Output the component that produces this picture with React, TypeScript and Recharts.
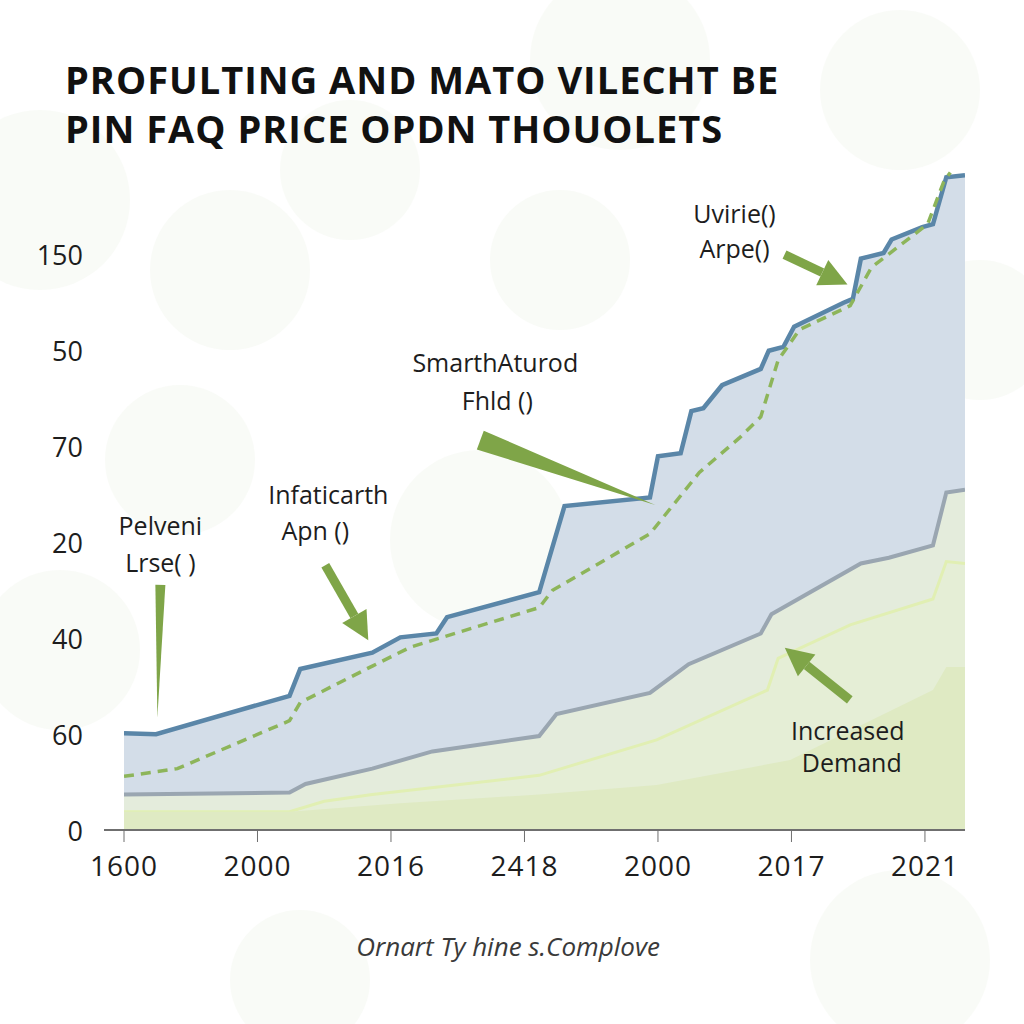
import React from 'react';
import { ComposedChart, Area, Line, XAxis, YAxis, ReferenceDot } from 'recharts';

// tick labels as printed on the picture
const xTickLabels = ['1600', '2000', '2016', '2418', '2000', '2017', '2021'];
const yTickLabels = ['0', '60', '40', '20', '70', '50', '150'];

// series as [x, value] pairs, x in tick units
const upperPrice: [number, number][] = [
  [0, 1.01], [0.24, 1.0], [1.24, 1.4], [1.32, 1.68], [1.86, 1.85], [2.07, 2.01], [2.34, 2.05],
  [2.42, 2.22], [3.11, 2.48], [3.3, 3.38], [3.94, 3.47], [4.0, 3.9], [4.17, 3.93], [4.25, 4.37],
  [4.34, 4.4], [4.48, 4.64], [4.77, 4.81], [4.83, 5.0], [4.94, 5.04], [5.02, 5.25], [5.39, 5.5],
  [5.46, 5.54], [5.52, 5.96], [5.69, 6.02], [5.75, 6.16], [5.98, 6.29], [6.06, 6.32],
  [6.16, 6.81], [6.3, 6.83],
];
const trendPrice: [number, number][] = [
  [0, 0.56], [0.4, 0.64], [1.24, 1.14], [1.32, 1.33], [1.86, 1.71], [2.15, 1.91], [3.11, 2.32],
  [3.21, 2.5], [3.94, 3.09], [4.31, 3.73], [4.61, 4.09], [4.77, 4.31], [4.9, 4.9], [5.06, 5.22],
  [5.44, 5.47], [5.6, 5.87], [6.02, 6.32], [6.14, 6.76], [6.19, 6.86],
];
const baseCost: [number, number][] = [
  [0, 0.37], [1.24, 0.39], [1.36, 0.48], [1.86, 0.64], [2.31, 0.82], [3.11, 0.98], [3.24, 1.21],
  [3.94, 1.43], [4.23, 1.73], [4.77, 2.05], [4.85, 2.25], [5.52, 2.78], [5.73, 2.84],
  [6.06, 2.97], [6.16, 3.52], [6.3, 3.55],
];
const demand: [number, number][] = [
  [0, 0.19], [1.24, 0.19], [1.5, 0.3], [1.86, 0.37], [3.11, 0.57], [3.99, 0.94], [4.82, 1.46], [4.9, 1.79],
  [5.44, 2.14], [6.06, 2.41], [6.16, 2.8], [6.3, 2.78],
];
const supply: [number, number][] = [
  [0, 0.19], [1.24, 0.19], [2.07, 0.28], [3.11, 0.37], [3.99, 0.47], [4.99, 0.73], [6.06, 1.46],
  [6.16, 1.7], [6.3, 1.7],
];

// annotations: tip in data units
const notes = [
  { lines: ['Pelveni', 'Lrse( )'], x: 0.25, y: 1.17, kind: 'wedge', tail: [3, -133], text: [[3, -193], [3, -156]], w: 10 },
  { lines: ['Infaticarth', 'Apn ()'], x: 1.83, y: 1.98, kind: 'arrow', tail: [-43, -75], text: [[-40, -146], [-53, -110]], w: 0 },
  { lines: ['SmarthAturod', 'Fhld ()'], x: 3.98, y: 3.39, kind: 'wedge', tail: [-175, -65], text: [[-160, -143], [-158, -105]], w: 20 },
  { lines: ['Uvirie()', 'Arpe()'], x: 5.42, y: 5.69, kind: 'arrow', tail: [-63, -30], text: [[-113, -72], [-113, -37]], w: 0 },
  { lines: ['Increased', 'Demand'], x: 4.95, y: 1.9, kind: 'arrow', tail: [65, 52], text: [[63, 82], [67, 114]], w: 0 },
];

const series = { upperPrice, trendPrice, baseCost, demand, supply };
const xs = Array.from(new Set(Object.values(series).flatMap((s) => s.map((p) => p[0])))).sort((a, b) => a - b);
const rows = xs.map((x) => {
  const row: Record<string, number> = { x };
  Object.entries(series).forEach(([k, s]) => {
    const p = s.find((q) => q[0] === x);
    if (p) row[k] = p[1];
  });
  return row;
});

const FONT = '"Open Sans", "Noto Sans", sans-serif';
const GREEN = '#7fa548';

function NoteShape(props: any) {
  const { cx, cy, note } = props;
  if (cx == null || cy == null) return null;
  const [tx, ty] = note.tail;
  const sx = cx + tx;
  const sy = cy + ty;
  const len = Math.hypot(tx, ty);
  const ux = -tx / len;
  const uy = -ty / len;
  const nx = -uy;
  const ny = ux;
  let shape;
  if (note.kind === 'wedge') {
    const h = note.w / 2;
    shape = <polygon points={`${sx + nx * h},${sy + ny * h} ${sx - nx * h},${sy - ny * h} ${cx},${cy}`} fill={GREEN} />;
  } else {
    const headLen = 28;
    const headW = 14;
    const bx = cx - ux * headLen;
    const by = cy - uy * headLen;
    shape = (
      <g>
        <line x1={sx} y1={sy} x2={bx} y2={by} stroke={GREEN} strokeWidth={9} />
        <polygon points={`${bx + nx * headW},${by + ny * headW} ${bx - nx * headW},${by - ny * headW} ${cx},${cy}`} fill={GREEN} />
      </g>
    );
  }
  return (
    <g>
      {shape}
      {note.lines.map((l: string, i: number) => (
        <text key={i} x={cx + note.text[i][0]} y={cy + note.text[i][1]} textAnchor="middle" dominantBaseline="central"
          fontFamily={FONT} fontSize={25} fill="#1d1d1d">{l}</text>
      ))}
    </g>
  );
}

const bubbles = [
  [40, 200, 90], [230, 270, 80], [350, 170, 70], [620, 60, 90], [900, 90, 80], [980, 330, 70],
  [180, 460, 75], [480, 540, 90], [720, 600, 80], [60, 650, 80], [300, 980, 70], [900, 960, 90], [560, 260, 70],
];

export default function App() {
  return (
    <div style={{ position: 'absolute', left: 0, top: 0, width: 1024, height: 1024, background: '#fff', overflow: 'hidden' }}>
      {bubbles.map(([x, y, r], i) => (
        <div key={i} style={{ position: 'absolute', left: x - r, top: y - r, width: r * 2, height: r * 2, borderRadius: '50%', background: '#f3f7f0', opacity: 0.5 }} />
      ))}
      <div style={{ position: 'absolute', left: 65, top: 55, fontFamily: FONT, fontWeight: 700, fontSize: 38, lineHeight: '49px', color: '#111', letterSpacing: 1 }}>
        <div>PROFULTING AND MATO VILECHT BE</div>
        <div>PIN FAQ PRICE OPDN THOUOLETS</div>
      </div>
      <div style={{ position: 'absolute', left: 0, width: 1016, top: 928, textAlign: 'center', fontFamily: FONT, fontStyle: 'italic', fontSize: 26, color: '#3a3a3a' }}>
        Ornart Ty hine s.Complove
      </div>
      <div style={{ position: 'absolute', left: 0, top: 0 }}>
        <ComposedChart width={1024} height={1024} data={rows} margin={{ top: 159, right: 59, bottom: 134, left: 0 }}>
          <XAxis dataKey="x" type="number" domain={[0, 6.3]} ticks={[0, 1, 2, 3, 4, 5, 6]} allowDataOverflow
            padding={{ left: 20, right: 0 }} height={60} stroke="#6f6f6f" axisLine={{ strokeWidth: 2 }}
            tickSize={12} tickMargin={14} tickFormatter={(v: number) => xTickLabels[v]}
            tick={{ fontSize: 28, fill: '#1d1d1d', fontFamily: FONT, letterSpacing: 1 }} />
          <YAxis type="number" domain={[0, 7]} ticks={[0, 1, 2, 3, 4, 5, 6]} width={104} axisLine={false} tickLine={false}
            tick={(p: any) => (
              <text x={83} y={p.y} textAnchor="end" dominantBaseline="central" fontFamily={FONT} fontSize={27} fill="#1d1d1d">
                {yTickLabels[p.index]}
              </text>
            )} />
          <Area dataKey="upperPrice" type="linear" connectNulls stroke="#5a86a8" strokeWidth={4.5} fill="#d3dde8" fillOpacity={1} isAnimationActive={false} />
          <Area dataKey="baseCost" type="linear" connectNulls stroke="#9aa6b1" strokeWidth={4} fill="#e4ecdc" fillOpacity={1} isAnimationActive={false} />
          <Area dataKey="demand" type="linear" connectNulls stroke="#e1efb3" strokeWidth={3} fill="#e5eed6" fillOpacity={1} isAnimationActive={false} />
          <Area dataKey="supply" type="linear" connectNulls stroke="none" fill="#dfeac3" fillOpacity={1} isAnimationActive={false} />
          <Line dataKey="trendPrice" type="linear" connectNulls stroke="#8db55a" strokeWidth={3.5} strokeDasharray="10 7" dot={false} isAnimationActive={false} />
          {notes.map((n, i) => (
            <ReferenceDot key={i} x={n.x} y={n.y} r={0} ifOverflow="visible" shape={(p: any) => <NoteShape {...p} note={n} />} />
          ))}
        </ComposedChart>
      </div>
    </div>
  );
}
